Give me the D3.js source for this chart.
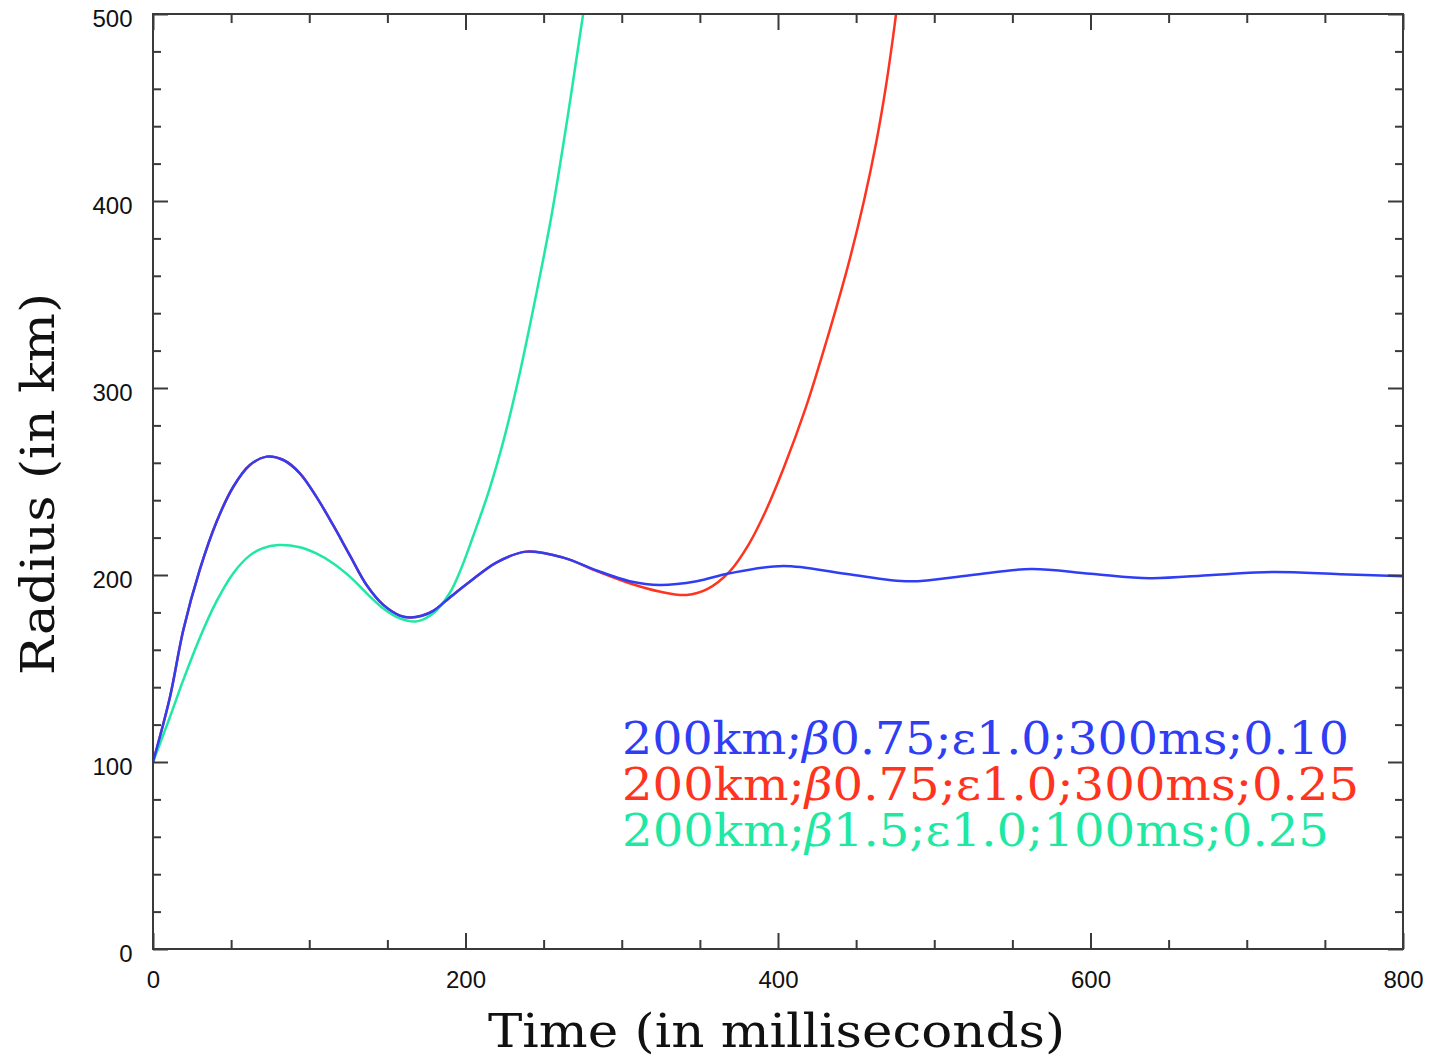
<!DOCTYPE html>
<html>
<head>
<meta charset="utf-8">
<script src="https://cdn.jsdelivr.net/npm/d3@7"></script>
<style>
  body { margin: 0; background: #fff; }
  svg { display: block; }
</style>
</head>
<body>
<svg id="chart" width="1430" height="1057"></svg>
<script>
// Radius evolution (km) versus time (ms) for three parameter sets.

const timeBlue   = [0, 10.9, 19.4, 30, 40.7, 51.4, 62, 72.7, 83.4, 94, 104.8, 115.4, 126, 136.8, 147.4, 158, 164.5, 172, 179.4, 190, 202.9, 220, 239, 262.6, 284, 305, 324.5, 348, 369, 403.4, 443, 484, 523, 562, 600, 638, 678, 717, 760, 800];
const radiusBlue = [100, 134.9, 170.6, 203, 228.5, 247.2, 258.8, 263.3, 261.5, 254.4, 241.5, 226.5, 210.5, 194.5, 184, 178.3, 177.3, 178.2, 180.8, 188, 196.5, 206.8, 212.5, 209.3, 202.4, 196.7, 194.7, 196.7, 200.9, 204.8, 200.7, 196.6, 199.9, 203.2, 200.7, 198.3, 200.0, 201.6, 200.4, 199.3];

const timeRed   = [0, 10.9, 19.4, 30, 40.7, 51.4, 62, 72.7, 83.4, 94, 104.8, 115.4, 126, 136.8, 147.4, 158, 164.5, 172, 179.4, 190, 202.9, 220, 239, 262.6, 284, 305, 324, 341.5, 355, 369, 381, 392, 404, 418, 431, 445, 455, 463, 469, 474, 477];
const radiusRed = [100, 134.9, 170.6, 203, 228.5, 247.2, 258.8, 263.3, 261.5, 254.4, 241.5, 226.5, 210.5, 194.5, 184, 178.3, 177.3, 178.2, 180.8, 188, 196.5, 206.8, 212.5, 209.3, 202.1, 195.6, 191.2, 189.3, 192.6, 201.8, 216, 234, 258, 290, 325, 366, 400, 432, 461, 490, 510];

const timeCyan   = [0, 10.9, 19.4, 30, 40.7, 51.4, 62, 70, 80.2, 94, 104.8, 115.4, 126, 136.8, 147.4, 158, 168.8, 179.4, 190, 197, 205, 215, 225, 235, 245, 255, 265, 273.5, 278];
const radiusCyan = [100, 124.2, 143.9, 166.5, 186, 201, 210.5, 214.2, 216, 214.8, 211.4, 206.2, 199.1, 190.2, 182.1, 176.8, 175.2, 179.5, 190.5, 203, 221, 245, 274, 309, 349, 392, 443, 490, 515];

const xMajorTicks = [0, 200, 400, 600, 800];
const xMinorTicks = [50, 100, 150, 250, 300, 350, 450, 500, 550, 650, 700, 750];
const yMajorTicks = [0, 100, 200, 300, 400, 500];
const yMinorTicks = [20, 40, 60, 80, 120, 140, 160, 180, 220, 240, 260, 280, 320, 340, 360, 380, 420, 440, 460, 480];

const legendRadius = ["200km", "200km", "200km"];
const legendBeta   = ["0.75", "0.75", "1.5"];
const legendEps    = ["1.0", "1.0", "1.0"];
const legendDur    = ["300ms", "300ms", "100ms"];
const legendLast   = ["0.10", "0.25", "0.25"];

const seriesColors = ["#2f3ef5", "#ff3420", "#1fe8a3"];

const svg = d3.select("#chart");
const plotLeft = 153, plotRight = 1403, plotTop = 14, plotBottom = 949;

const x = d3.scaleLinear().domain([0, 800]).range([plotLeft, plotRight]);
const y = d3.scaleLinear().domain([0, 500]).range([plotBottom, plotTop]);

const frameColor = "#3a3a3a";
const tickFont = "'Liberation Sans', Arial, Helvetica, sans-serif";

svg.append("defs").append("clipPath").attr("id", "plot-clip")
  .append("rect").attr("x", plotLeft).attr("y", plotTop)
  .attr("width", plotRight - plotLeft).attr("height", plotBottom - plotTop);

// Curves: red and cyan underneath, blue on top
const line = d3.line().x(d => x(d[0])).y(d => y(d[1])).curve(d3.curveCatmullRom.alpha(0.5));
const curves = [
  { t: timeRed, r: radiusRed, color: seriesColors[1] },
  { t: timeCyan, r: radiusCyan, color: seriesColors[2] },
  { t: timeBlue, r: radiusBlue, color: seriesColors[0] }
];
const plot = svg.append("g").attr("clip-path", "url(#plot-clip)");
curves.forEach(c => {
  plot.append("path")
    .datum(c.t.map((t, i) => [t, c.r[i]]))
    .attr("fill", "none")
    .attr("stroke", c.color)
    .attr("stroke-width", 2.5)
    .attr("stroke-linejoin", "round")
    .attr("d", line);
});

// Axes with inward ticks on all four sides
function styleAxis(g) {
  g.select(".domain").remove();
  g.selectAll(".tick line").attr("stroke", frameColor).attr("stroke-width", 2);
  g.selectAll(".tick text").attr("fill", "#111").attr("font-family", tickFont).attr("font-size", 24);
}

svg.append("g").attr("transform", `translate(0,${plotBottom})`)
  .call(d3.axisBottom(x).tickValues(xMinorTicks).tickSize(-9).tickFormat(""))
  .call(styleAxis);
svg.append("g").attr("transform", `translate(0,${plotBottom})`)
  .call(d3.axisBottom(x).tickValues(xMajorTicks).tickSize(-16).tickPadding(22).tickFormat(d3.format("d")))
  .call(styleAxis);

svg.append("g").attr("transform", `translate(0,${plotTop})`)
  .call(d3.axisTop(x).tickValues(xMinorTicks).tickSize(-9).tickFormat(""))
  .call(styleAxis);
svg.append("g").attr("transform", `translate(0,${plotTop})`)
  .call(d3.axisTop(x).tickValues(xMajorTicks).tickSize(-16).tickFormat(""))
  .call(styleAxis);

svg.append("g").attr("transform", `translate(${plotLeft},0)`)
  .call(d3.axisLeft(y).tickValues(yMinorTicks).tickSize(-8).tickFormat(""))
  .call(styleAxis);
const yAxis = svg.append("g").attr("transform", `translate(${plotLeft},0)`)
  .call(d3.axisLeft(y).tickValues(yMajorTicks).tickSize(-15).tickPadding(20.5).tickFormat(d3.format("d")))
  .call(styleAxis);
yAxis.selectAll(".tick text").attr("dy", "0.54em");

svg.append("g").attr("transform", `translate(${plotRight},0)`)
  .call(d3.axisRight(y).tickValues(yMinorTicks).tickSize(-8).tickFormat(""))
  .call(styleAxis);
svg.append("g").attr("transform", `translate(${plotRight},0)`)
  .call(d3.axisRight(y).tickValues(yMajorTicks).tickSize(-15).tickFormat(""))
  .call(styleAxis);

// Plot frame
svg.append("rect")
  .attr("x", plotLeft).attr("y", plotTop)
  .attr("width", plotRight - plotLeft).attr("height", plotBottom - plotTop)
  .attr("fill", "none").attr("stroke", frameColor).attr("stroke-width", 2);

// Axis titles
const titleFont = "'DejaVu Serif', 'Liberation Serif', serif";
svg.append("text")
  .attr("x", 776.5).attr("y", 1047)
  .attr("text-anchor", "middle")
  .attr("font-family", titleFont).attr("font-size", 47)
  .attr("fill", "#111")
  .attr("textLength", 577).attr("lengthAdjust", "spacingAndGlyphs")
  .text("Time (in milliseconds)");

svg.append("text")
  .attr("transform", "translate(54,484) rotate(-90)")
  .attr("text-anchor", "middle")
  .attr("font-family", titleFont).attr("font-size", 47)
  .attr("fill", "#111")
  .attr("textLength", 382).attr("lengthAdjust", "spacingAndGlyphs")
  .text("Radius (in km)");

// Legend
const legendWidths = [727, 737, 707];
const legendBaselines = [754, 800, 846];
legendRadius.forEach((r, i) => {
  const t = svg.append("text")
    .attr("x", 622).attr("y", legendBaselines[i])
    .attr("font-family", titleFont).attr("font-size", 44)
    .attr("fill", seriesColors[i])
    .attr("textLength", legendWidths[i]).attr("lengthAdjust", "spacingAndGlyphs");
  t.append("tspan").text(r + ";");
  t.append("tspan").attr("font-style", "italic").text("β");
  t.append("tspan").text(legendBeta[i] + ";ε" + legendEps[i] + ";" + legendDur[i] + ";" + legendLast[i]);
});
</script>
</body>
</html>
